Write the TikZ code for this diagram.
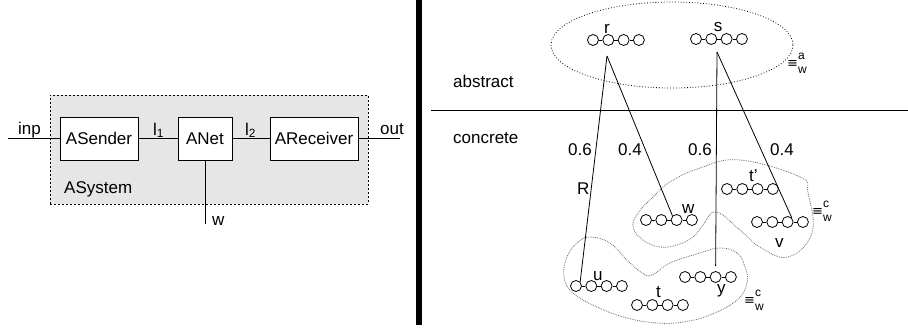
\documentclass[tikz,border=0pt]{standalone}
\usepackage{fontspec}
\setmainfont{Liberation Sans}
\newfontfamily\eqfont{DejaVu Sans}
\usepackage{tikz}
\usetikzlibrary{arrows}
\tikzset{
wire/.style={line width=0.8pt},
blk/.style={draw,fill=white,line width=0.8pt,minimum height=43pt,inner sep=0pt},
bead/.style={circle,draw,fill=white,line width=0.8pt,minimum size=11pt,inner sep=0pt},
lbl/.style={inner sep=0pt,anchor=base west},
eqlbl/.style={inner sep=0pt,anchor=west},
eqcls/.style={densely dotted,line width=0.8pt,color={rgb, 255:red, 110; green, 110; blue, 110 }},
}
% four linked states: name, x of first bead, y
\newcommand{\beads}[3]{%
\foreach \i in {1,...,4}
  \node[bead] (#1\i) at ({#2+15.3*(\i-1)},#3) {};
\draw[wire] (#11) -- (#12) -- (#13) -- (#14);
}
% equivalence sign with stacked scripts
\newcommand{\wequiv}[1]{{\eqfont\fontsize{13}{13}\selectfont ≡}{\fontsize{12}{12}\selectfont\begin{tabular}{@{}l@{}}#1\\[2pt]w\end{tabular}}}
\begin{document}
\begin{tikzpicture}[x=1pt,y=1pt,yscale=-1,xscale=1,font=\fontsize{17}{20}\selectfont]
\useasboundingbox (0,0) rectangle (908,329);

%Shape: Rectangle [ASystem]
\node[draw,dash pattern=on 2pt off 2pt,line width=0.8pt,fill={rgb, 255:red, 230; green, 230; blue, 230 },minimum width=318pt,minimum height=109pt,inner sep=0pt] (asys) at (209,149.5) {};
\node[lbl] (asyslbl) at (64,193) {ASystem};

%Shape: Rectangle [components]
\node[blk,minimum width=78pt] (snd) at (99,138.5) {ASender};
\node[blk,minimum width=54pt] (net) at (205,138.5) {ANet};
\node[blk,minimum width=88pt] (rcv) at (314,138.5) {AReceiver};
\coordinate (inp) at (8,138.5);
\coordinate (out) at (400,138.5);
\coordinate (wend) at (205,224);

%Straight Lines [channels]
\draw[wire] (inp) -- (snd) -- (net) -- (rcv) -- (out);
\draw[wire] (net) -- (wend);
\node[lbl] (inplbl) at (18,134) {inp};
\node[lbl] (l1lbl) at (153,135) {l\textsubscript{1}};
\node[lbl] (l2lbl) at (245,135) {l\textsubscript{2}};
\node[lbl] (outlbl) at (380,134) {out};
\node[lbl] (wlbl) at (212,225) {w};

%Straight Lines [separator]
\draw[line width=6pt] (419,0) -- (419,325);
\draw[wire] (431,110) -- (908,110);
\node[lbl] (abslbl) at (453,88) {abstract};
\node[lbl] (conlbl) at (453,143) {concrete};

%Shape: Ellipse [abstract class]
\draw[dotted,line width=0.8pt] (672,45) ellipse [x radius=121, y radius=43];
\node[eqlbl] (eqa) at (787,64) {\wequiv{a}};

%Shape: Closed Curve [concrete classes]
\draw[eqcls] plot[smooth cycle,tension=0.7] coordinates {(740,160) (800,177) (808,193) (812,233) (788,257) (760,247) (740,230) (716,212) (703,225) (693,237) (677,245) (660,247) (643,240) (633,227) (638,213) (653,197) (670,182) (700,168)};
\draw[eqcls] plot[smooth cycle,tension=0.7] coordinates {(567,257) (577,243) (590,237) (610,243) (627,260) (642,273) (652,275) (670,263) (700,253) (720,248) (737,253) (745,267) (747,283) (737,300) (710,315) (683,322) (657,323) (627,318) (597,307) (573,293) (564,277)};
\node[eqlbl] (eqc1) at (812,212) {\wequiv{c}};
\node[eqlbl] (eqc2) at (744,301) {\wequiv{c}};

%Shape: Circles [states]
\beads{r}{593}{40}
\beads{s}{696}{39}
\beads{w}{646}{220}
\beads{u}{576}{286}
\beads{t}{637}{305}
\beads{y}{685}{277}
\beads{tp}{727}{189}
\beads{v}{757}{222}
\node (rlbl) at (607,29) {r};
\node (slbl) at (718,27.5) {s};
\node[lbl] (wslbl) at (682,213) {w};
\node[lbl] (ulbl) at (593,280) {u};
\node[lbl] (tlbl) at (656,297) {t};
\node[lbl] (ylbl) at (717,293) {y};
\node[lbl] (tplbl) at (749,181) {t'};
\node[lbl] (vlbl) at (775,247) {v};

%Straight Lines [refinement]
\coordinate (rfoot) at (607,56);
\coordinate (sfoot) at (717,52);
\draw[wire] (rfoot) -- (u1.north east);
\draw[wire] (rfoot) -- (w3.north west);
\draw[wire,shorten >=5pt] (sfoot) -- (y3.north);
\draw[wire] (sfoot) -- (v3.north east);
\node[lbl] (p1) at (568,155) {0.6};
\node[lbl] (p2) at (618,155) {0.4};
\node[lbl] (p3) at (688,155) {0.6};
\node[lbl] (p4) at (770,155) {0.4};
\node[lbl] (rel) at (577,194) {R};

\end{tikzpicture}
\end{document}
